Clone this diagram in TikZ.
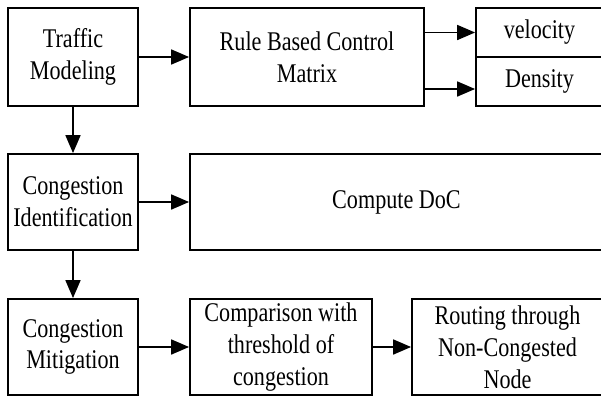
\documentclass[tikz,border=0pt]{standalone}
\usepackage{fontspec}
\setmainfont{Liberation Serif}[FakeStretch=0.82]
\usetikzlibrary{arrows.meta}

\begin{document}
\begin{tikzpicture}[x=0.5pt, y=-0.5pt, line width=0.9pt]

%---- STYLES ----
\tikzset{
    block/.style={draw, inner sep=0pt, align=center, minimum height=48pt,
        font=\fontsize{13.5}{15.9}\selectfont},
    flow/.style={-{Triangle[length=9pt, width=7.5pt]}},
}

% PAGE (pixel units of the reference)
\useasboundingbox (0,0) rectangle (601,396);

%---- TOP ROW ----
\node[block, minimum width=65pt, minimum height=49pt] (traffic) at (73,57) {Traffic\\Modeling};
\node[block, minimum width=117pt, minimum height=49pt] (rule) at (307,57) {Rule Based Control\\Matrix};
\node[block, minimum width=63.5pt, minimum height=24.5pt] (vel) at (539.5,32.5) {velocity};
\node[block, minimum width=63.5pt, minimum height=24.5pt] (dens) at (539.5,81.5) {Density};

%---- MIDDLE ROW ----
\node[block, minimum width=65pt] (ident) at (73,202) {Congestion\\Identification};
\node[block, minimum width=206.5pt] (doc) at (396.5,202) {Compute DoC};

%---- BOTTOM ROW ----
\node[block, minimum width=65pt] (mitig) at (73,347) {Congestion\\Mitigation};
\node[block, minimum width=91pt] (compare) at (281,347) {Comparison with\\threshold of\\congestion};
\node[block, minimum width=95.5pt] (routing) at (507.5,347) {Routing through\\Non-Congested\\Node};

%---- ARROWS ----
\draw[flow] (traffic) -- (rule);
\draw[flow] (rule.east |- vel.west) -- (vel.west);
\draw[flow] ([yshift=-16pt]rule.east) -- ([yshift=-16pt]rule.east -| dens.west);
\draw[flow] (traffic) -- (ident);
\draw[flow] (ident) -- (doc);
\draw[flow] (ident) -- (mitig);
\draw[flow] (mitig) -- (compare);
\draw[flow] (compare) -- (routing);

\end{tikzpicture}
\end{document}
